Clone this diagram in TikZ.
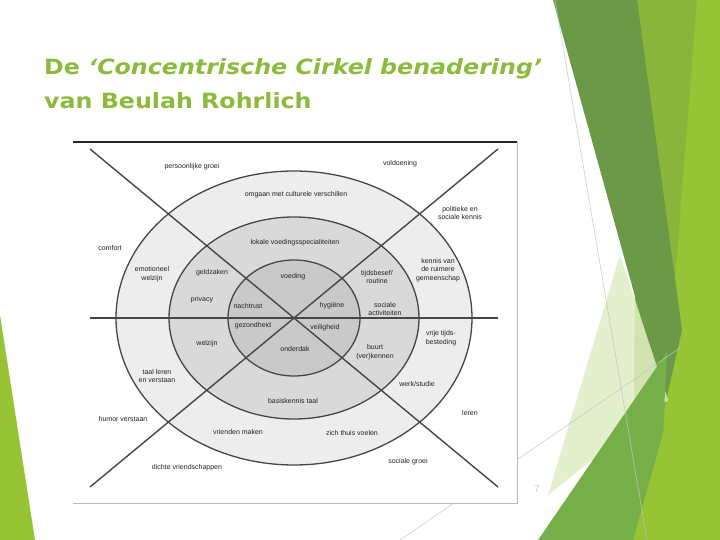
\documentclass[tikz,border=0pt]{standalone}
\usepackage{fontspec}
\setmainfont{Liberation Sans}
\newfontfamily\titlefont{DejaVu Sans}
\definecolor{titlegreen}{RGB}{140,186,60}
\definecolor{limegreen}{RGB}{150,196,52}
\definecolor{midgreen}{RGB}{137,181,58}
\definecolor{darkgreen}{RGB}{107,153,72}
\definecolor{palegreen}{RGB}{222,236,196}
\definecolor{trigreen}{RGB}{118,175,72}
\definecolor{ringouter}{RGB}{237,237,237}
\definecolor{ringmid}{RGB}{217,217,217}
\definecolor{ringinner}{RGB}{201,201,201}
\definecolor{inkline}{RGB}{70,70,70}
\definecolor{lbltext}{RGB}{35,35,35}
\tikzset{
  ring/.style={draw=inkline, line width=1.3pt},
  axis/.style={draw=inkline, line width=1.4pt},
  lbl/.style={font=\fontsize{7}{8.5}\selectfont, text=lbltext, align=center, inner sep=0pt},
  titleline/.style={font=\titlefont\fontsize{21}{26}\selectfont\bfseries, text=titlegreen, anchor=base west, inner sep=0pt},
  hairline/.style={draw=gray!45, line width=0.5pt},
}
\begin{document}
\begin{tikzpicture}[x=1pt,y=-1pt]
    \useasboundingbox (0,0) rectangle (720,540);

    % Slide background shapes
    \fill[limegreen] (0,315) -- (35,540) -- (0,540) -- cycle;
    \fill[midgreen] (637,0) -- (720,0) -- (720,540) -- (633,540) -- cycle;
    \fill[limegreen] (697,0) -- (720,0) -- (720,540) -- (633,540) -- (663,433) -- cycle;
    \fill[darkgreen] (553,0) -- (637,0) -- (682,330) -- (665,405) -- cycle;
    \fill[palegreen, opacity=0.85] (620,255) -- (668,400) -- (548,495) -- cycle;
    \fill[trigreen] (538,540) -- (667,352) -- (663,433) -- (633,540) -- cycle;
    \draw[hairline] (555,0) -- (647,540);
    \draw[hairline] (400,540) -- (680,348);

    % Title
    \node[titleline] (title1) at (44,75) {\scalebox{1.13}[1]{De \textit{‘Concentrische Cirkel benadering’}}};
    \node[titleline] (title2) at (44,109) {\scalebox{1.13}[1]{van Beulah Rohrlich}};

    % Picture frame
    \fill[white] (73,142) rectangle (517,503);
    \draw[gray!55, line width=0.6pt] (517,142) -- (517,503) -- (73,503);
    \draw[black!85, line width=1.2pt] (73,142) -- (517,142);

    % Rings
    \coordinate (c) at (294,318);
    \filldraw[ring, fill=ringouter] (c) ellipse [x radius=178pt, y radius=147pt];
    \filldraw[ring, fill=ringmid] (c) ellipse [x radius=125pt, y radius=101pt];
    \filldraw[ring, fill=ringinner] (c) ellipse [x radius=66pt, y radius=58pt];

    % Axes
    \coordinate (w) at (90,318);
    \coordinate (e) at (498,318);
    \coordinate (nw) at (90,149);
    \coordinate (ne) at (498,149);
    \coordinate (sw) at (90,487);
    \coordinate (se) at (498,487);
    \draw[axis] (w) -- (e);
    \draw[axis] (nw) -- (se);
    \draw[axis] (ne) -- (sw);

    % Outside the rings
    \node[lbl] (groei) at (192,167) {persoonlijke groei};
    \node[lbl] (voldoening) at (400,164) {voldoening};
    \node[lbl] (politiek) at (460,213) {politieke en\\sociale kennis};
    \node[lbl] (comfort) at (110,248) {comfort};
    \node[lbl] (leren) at (470,413) {leren};
    \node[lbl] (humor) at (123,419) {humor verstaan};
    \node[lbl] (vriendschap) at (187,468) {dichte vriendschappen};
    \node[lbl] (sociaalgroei) at (408,462) {sociale groei};

    % Outer ring
    \node[lbl] (cultuur) at (296,195) {omgaan met culturele verschillen};
    \node[lbl] (emotie) at (152,274) {emotioneel\\welzijn};
    \node[lbl] (gemeenschap) at (438,270) {kennis van\\de ruimere\\gemeenschap};
    \node[lbl] (vrijetijd) at (441,338) {vrije tijds-\\besteding};
    \node[lbl] (taal) at (157,376) {taal leren\\en verstaan};
    \node[lbl] (werk) at (417,384) {werk/studie};
    \node[lbl] (vrienden) at (238,432) {vrienden maken};
    \node[lbl] (thuis) at (352,433) {zich thuis voelen};

    % Middle ring
    \node[lbl] (lokaal) at (295,243) {lokale voedingsspecialiteiten};
    \node[lbl] (geld) at (212,273) {geldzaken};
    \node[lbl] (privacy) at (202,300) {privacy};
    \node[lbl] (welzijn) at (207,344) {welzijn};
    \node[lbl] (tijd) at (377,277) {tijdsbesef/\\routine};
    \node[lbl] (sociaal) at (385,309) {sociale\\activiteiten};
    \node[lbl] (buurt) at (375,352) {buurt\\(ver)kennen};
    \node[lbl] (basistaal) at (293,401) {basiskennis taal};

    % Inner ring
    \node[lbl] (voeding) at (293,277) {voeding};
    \node[lbl] (nachtrust) at (248,306) {nachtrust};
    \node[lbl] (hygiene) at (332,306) {hygiëne};
    \node[lbl] (gezond) at (253,326) {gezondheid};
    \node[lbl] (veilig) at (325,328) {veiligheid};
    \node[lbl] (onderdak) at (295,349) {onderdak};

    % Page number
    \node[lbl, text=gray!40, font=\fontsize{10}{12}\selectfont] (page) at (537,489) {7};
\end{tikzpicture}
\end{document}
